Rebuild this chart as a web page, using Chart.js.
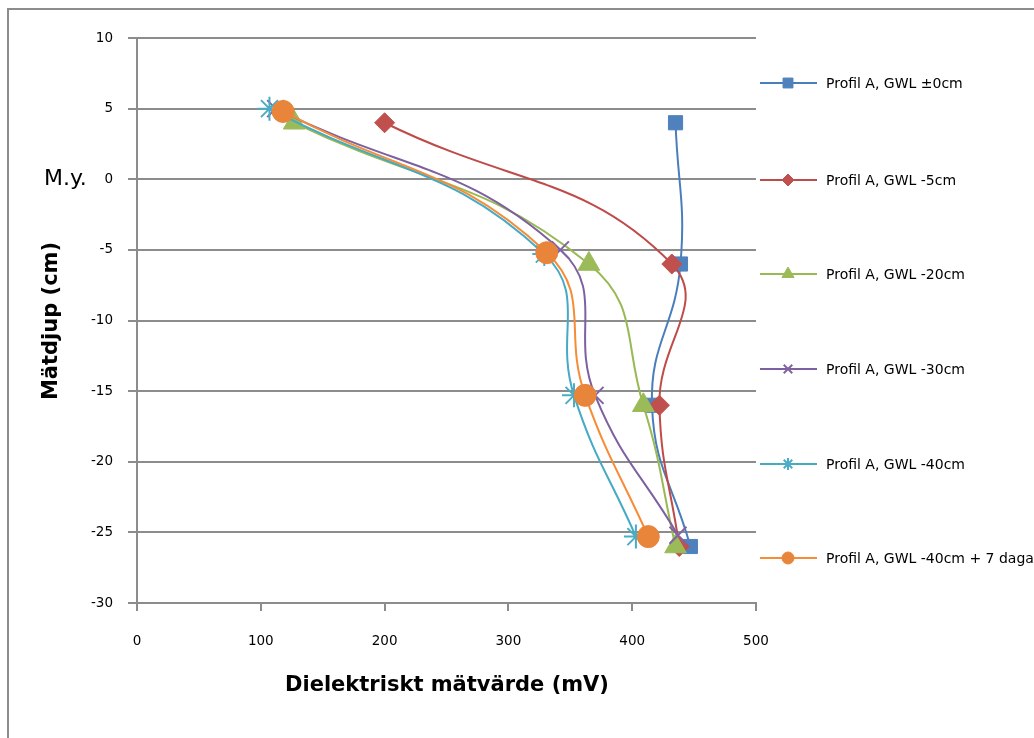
<!DOCTYPE html>
<html>
<head>
<meta charset="utf-8">
<script src="https://cdn.jsdelivr.net/npm/chart.js@4/dist/chart.umd.min.js"></script>
<style>
html,body{margin:0;padding:0;background:#fff;}
#wrap{position:relative;width:1034px;height:738px;}
</style>
</head>
<body>
<div id="wrap"><canvas id="c" width="1034" height="738"></canvas></div>
<script>
const seriesNames = [
  "Profil A, GWL \u00b10cm",
  "Profil A, GWL -5cm",
  "Profil A, GWL -20cm",
  "Profil A, GWL -30cm",
  "Profil A, GWL -40cm",
  "Profil A, GWL -40cm + 7 dagar"
];
const gwl0X  = [435, 439, 416, 447];
const gwl0Y  = [4, -6, -16, -26];
const gwl5X  = [200, 432, 422, 438];
const gwl5Y  = [4, -6, -16, -26];
const gwl20X = [127, 365, 409, 435];
const gwl20Y = [4, -6, -16, -26];
const gwl30X = [112, 342, 370, 437];
const gwl30Y = [5, -5.0, -15.3, -25.2];
const gwl40X = [107, 329, 353, 403];
const gwl40Y = [5, -5.3, -15.3, -25.3];
const gwl40d7X = [118, 331, 362, 413];
const gwl40d7Y = [4.8, -5.2, -15.3, -25.3];
const xTicks = [0, 100, 200, 300, 400, 500];
const yTicks = [10, 5, 0, -5, -10, -15, -20, -25, -30];

const FONT = "'DejaVu Sans', sans-serif";
const GRID = '#8c8c8c';

function pts(xs, ys){ return xs.map((x,i)=>({x:x, y:ys[i]})); }

const styles = [
  {line:'#4a7ebb', fill:'#4f81bd', shape:'rect', r:10, lr:7},
  {line:'#be4b48', fill:'#c0504d', shape:'rectRot', r:10, lr:6},
  {line:'#98b954', fill:'#9bbb59', shape:'triangle', r:12.5, lr:7},
  {line:'#7d60a0', fill:'#8064a2', shape:'crossRot', r:12, lr:6},
  {line:'#46aac5', fill:'#4bacc6', shape:'star', r:12, lr:6},
  {line:'#f68c36', fill:'#e9853a', shape:'circle', r:11, lr:6}
];
const values = [
  pts(gwl0X,gwl0Y), pts(gwl5X,gwl5Y), pts(gwl20X,gwl20Y),
  pts(gwl30X,gwl30Y), pts(gwl40X,gwl40Y), pts(gwl40d7X,gwl40d7Y)
];

const datasets = values.map((d,i)=>({
  label: seriesNames[i],
  data: d,
  order: values.length - 1 - i,
  showLine: true,
  tension: 0.45,
  borderColor: styles[i].line,
  borderWidth: 2,
  backgroundColor: styles[i].fill,
  pointStyle: styles[i].shape,
  pointRadius: styles[i].r,
  pointBorderColor: styles[i].fill,
  pointBorderWidth: (styles[i].shape==='crossRot'||styles[i].shape==='star') ? 2 : 1,
  pointBackgroundColor: styles[i].fill,
  clip: false
}));

const extras = {
  id: 'extras',
  beforeDraw(chart){
    const ctx = chart.ctx;
    ctx.save();
    ctx.fillStyle = '#fff';
    ctx.fillRect(0,0,chart.width,chart.height);
    ctx.strokeStyle = '#8c8c8c';
    ctx.lineWidth = 2;
    ctx.strokeRect(8, 9, 1100, 800);
    ctx.restore();
  },
  afterDraw(chart){
    const ctx = chart.ctx;
    ctx.save();
    ctx.fillStyle = '#000';
    ctx.font = "bold 21px " + FONT;
    ctx.textAlign = 'center';
    ctx.textBaseline = 'middle';
    ctx.fillText('Dielektriskt m\u00e4tv\u00e4rde (mV)', 447, 686);
    ctx.save();
    ctx.translate(52, 321);
    ctx.rotate(-Math.PI/2);
    ctx.fillText('M\u00e4tdjup (cm)', 0, 0);
    ctx.restore();
    ctx.font = "22px " + FONT;
    ctx.textAlign = 'left';
    ctx.fillText('M.y.', 44, 179);
    const ys = [83, 180, 274, 369, 464, 558];
    chart.data.datasets.forEach((ds,i)=>{
      const y = ys[i];
      ctx.strokeStyle = ds.borderColor;
      ctx.lineWidth = 2;
      ctx.beginPath(); ctx.moveTo(760,y); ctx.lineTo(817,y); ctx.stroke();
      const st = styles[i];
      ctx.fillStyle = st.fill;
      ctx.strokeStyle = st.fill;
      ctx.lineWidth = (st.shape==='crossRot'||st.shape==='star') ? 2 : 1;
      Chart.helpers.drawPoint(ctx, {pointStyle: st.shape, radius: st.lr, borderWidth: ctx.lineWidth}, 788, y);
      ctx.fillStyle = '#000';
      ctx.font = "14px " + FONT;
      ctx.textAlign = 'left';
      ctx.textBaseline = 'middle';
      ctx.fillText(ds.label, 826, y+1);
    });
    ctx.restore();
  }
};

new Chart(document.getElementById('c'), {
  type: 'scatter',
  data: { datasets },
  plugins: [extras],
  options: {
    responsive: false,
    animation: false,
    layout: { padding: { left: 0, top: 38, right: 278, bottom: 85 } },
    plugins: { legend: { display: false }, tooltip: { enabled: false } },
    scales: {
      x: {
        type: 'linear', min: 0, max: 500,
        afterBuildTicks: s => { s.ticks = xTicks.map(v=>({value:v})); },
        afterFit: s => { s.height = 50; },
        grid: { drawOnChartArea: false, drawTicks: true, tickLength: 8, color: GRID, lineWidth: 2 },
        border: { color: GRID, width: 2 },
        ticks: { color: '#000', font: { family: FONT, size: 13.5 }, padding: 22, maxRotation: 0 }
      },
      y: {
        type: 'linear', min: -30, max: 10,
        afterBuildTicks: s => { s.ticks = yTicks.map(v=>({value:v})); },
        afterFit: s => { s.width = 137; },
        grid: { drawOnChartArea: true, drawTicks: true, tickLength: 9, color: GRID, lineWidth: 2 },
        border: { color: GRID, width: 2 },
        ticks: { color: '#000', font: { family: FONT, size: 13.5 }, padding: 15 }
      }
    }
  }
});
</script>
</body>
</html>
